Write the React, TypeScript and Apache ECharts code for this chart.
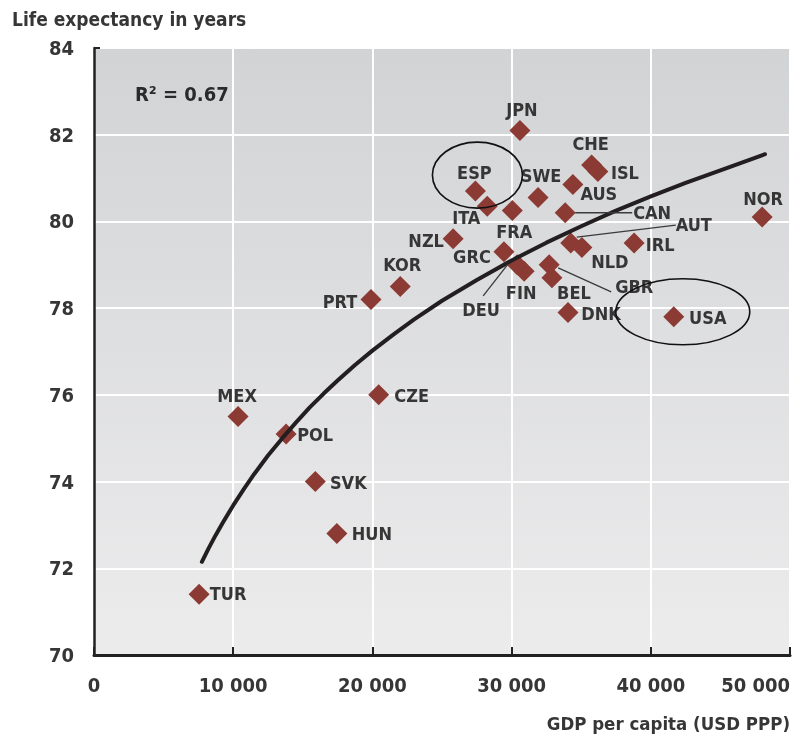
import React, { useEffect, useRef } from "react";
import * as echarts from "echarts";

const countries = ["TUR", "MEX", "POL", "SVK", "HUN", "CZE", "PRT", "KOR", "NZL", "GRC", "ITA", "ESP", "FRA", "SWE", "AUS", "CHE", "ISL", "JPN", "CAN", "AUT", "NLD", "IRL", "NOR", "USA", "DNK", "BEL", "GBR", "FIN", "DEU"];
const gdpPerCapita = [7550, 10350, 13800, 15900, 17450, 20450, 19900, 22000, 25800, 29450, 28250, 27400, 30050, 31900, 34400, 35750, 36200, 30600, 33850, 34250, 35050, 38800, 48000, 41650, 34050, 32900, 32700, 30900, 30400];
const lifeExpectancy = [71.4, 75.5, 75.1, 74.0, 72.8, 76.0, 78.2, 78.5, 79.6, 79.3, 80.35, 80.7, 80.25, 80.55, 80.85, 81.3, 81.15, 82.1, 80.2, 79.5, 79.4, 79.5, 80.1, 77.8, 77.9, 78.7, 79.0, 78.85, 79.0];

// Fitted curve
const trendGdp = [7750, 8250, 8750, 9250, 10000, 10750, 11500, 12500, 13500, 14500, 15500, 16500, 17500, 18750, 20000, 21500, 23000, 25000, 27500, 30000, 32500, 35000, 37500, 40000, 42500, 45000, 48200];
const trendLife = [72.15, 72.47, 72.77, 73.05, 73.45, 73.82, 74.17, 74.6, 74.99, 75.36, 75.71, 76.03, 76.33, 76.69, 77.02, 77.39, 77.74, 78.17, 78.65, 79.1, 79.51, 79.89, 80.25, 80.58, 80.89, 81.18, 81.55];

const xTicks = [0, 10000, 20000, 30000, 40000, 50000];
const yTicks = [70, 72, 74, 76, 78, 80, 82, 84];

const titleText = "Life expectancy in years";
const xAxisName = "GDP per capita (USD PPP)";
const r2Text = "R² = 0.67";
const highlighted = ["ESP", "USA"];

// layout: label centre offsets (px) from each diamond
const labelOffsets: Record<string, number[]> = {
  TUR: [29, -1], MEX: [-1, -21], POL: [29, 1], SVK: [33, 1], HUN: [35, 0], CZE: [33, 1],
  PRT: [-31, 2], KOR: [2, -22], NZL: [-27, 2], GRC: [-32, 5], ITA: [-21, 11], ESP: [-1, -19],
  FRA: [2, 21], SWE: [3, -22], AUS: [26, 9], CHE: [-1, -22], ISL: [27, 1], JPN: [2, -21],
  CAN: [87, 0], AUT: [123, -19], NLD: [28, 14], IRL: [26, 1], NOR: [1, -19], USA: [34, 1],
  DNK: [33, 1], BEL: [22, 15], GBR: [85, 22], FIN: [-3, 21], DEU: [-36, 45],
};
// layout: leader lines [x1, y1, x2, y2] relative to the diamond
const leaderLines: Record<string, number[]> = {
  CAN: [10, 0, 67, 0],
  AUT: [6, -6, 105, -18],
  GBR: [9, 3, 62, 27],
  DEU: [-9, -1, -34, 31],
};
// layout: ellipse centre offset and radii
const ellipses: Record<string, number[]> = {
  ESP: [2, -16, 45, 33],
  USA: [9, -5, 67, 33],
};

const FONT = "'DejaVu Sans Condensed', 'DejaVu Sans', sans-serif";
const TEXT = "#363636";

export default function App() {
  const ref = useRef<HTMLDivElement>(null);
  useEffect(() => {
    const chart = echarts.init(ref.current!, null, { renderer: "svg" });
    const option: any = {
      animation: false,
      grid: {
        left: 94,
        right: 6,
        top: 48,
        bottom: 87,
        show: true,
        borderWidth: 0,
        backgroundColor: new echarts.graphic.LinearGradient(0, 0, 0, 1, [
          { offset: 0, color: "#d2d3d5" },
          { offset: 1, color: "#ececed" },
        ]),
      },
      xAxis: {
        type: "value",
        min: xTicks[0],
        max: xTicks[xTicks.length - 1],
        interval: 10000,
        axisLine: { show: true, lineStyle: { color: "#222", width: 3 } },
        axisTick: { show: true, inside: true, length: 8, lineStyle: { color: "#222", width: 2 } },
        splitLine: { show: true, lineStyle: { color: "#ffffff", width: 2 } },
        axisLabel: {
          color: TEXT,
          fontFamily: FONT,
          fontWeight: "bold",
          fontSize: 20,
          margin: 20,
          alignMaxLabel: "right",
          formatter: (v: number) => (v === 0 ? "0" : `${v / 1000} 000`),
        },
      },
      yAxis: {
        type: "value",
        min: yTicks[0],
        max: yTicks[yTicks.length - 1],
        interval: 2,
        axisLine: { show: true, lineStyle: { color: "#222", width: 2.5 } },
        axisTick: { show: false },
        splitLine: { show: true, lineStyle: { color: "#ffffff", width: 2 } },
        axisLabel: { color: TEXT, fontFamily: FONT, fontWeight: "bold", fontSize: 20, margin: 20 },
      },
      series: [
        {
          type: "scatter",
          symbol: "diamond",
          symbolSize: 21,
          itemStyle: { color: "#8b3a34", opacity: 1 },
          z: 2,
          label: {
            show: true,
            position: "inside",
            formatter: "{b}",
            color: TEXT,
            fontFamily: FONT,
            fontWeight: "bold",
            fontSize: 18,
            align: "center",
            verticalAlign: "middle",
          },
          data: countries.map((c, i) => ({
            name: c,
            value: [gdpPerCapita[i], lifeExpectancy[i]],
            label: { offset: labelOffsets[c] },
          })),
        },
        {
          type: "line",
          smooth: false,
          showSymbol: false,
          z: 5,
          lineStyle: { color: "#231f20", width: 4, join: "round", cap: "round" },
          data: trendGdp.map((x, i) => [x, trendLife[i]]),
        },
      ],
    };
    chart.setOption(option);

    const graphics: any[] = [
      {
        type: "text",
        left: 12,
        top: 9,
        style: { text: titleText, font: `bold 19px ${FONT}`, fill: TEXT },
      },
      {
        type: "text",
        right: 6,
        top: 714,
        style: { text: xAxisName, font: `bold 18.5px ${FONT}`, fill: TEXT },
      },
      {
        type: "text",
        left: 135,
        top: 84,
        style: { text: r2Text, font: `bold 20px ${FONT}`, fill: "#2a2a2a" },
      },
    ];
    const topLeft = chart.convertToPixel({ gridIndex: 0 }, [xTicks[0], yTicks[yTicks.length - 1]]) as number[];
    graphics.push({
      type: "line",
      shape: { x1: topLeft[0], y1: topLeft[1], x2: topLeft[0] + 6, y2: topLeft[1] },
      style: { stroke: "#222", lineWidth: 2 },
    });
    countries.forEach((c, i) => {
      const p = chart.convertToPixel({ gridIndex: 0 }, [gdpPerCapita[i], lifeExpectancy[i]]) as number[];
      const l = leaderLines[c];
      if (l) {
        graphics.push({
          type: "line",
          z: 10,
          shape: { x1: p[0] + l[0], y1: p[1] + l[1], x2: p[0] + l[2], y2: p[1] + l[3] },
          style: { stroke: "#3a3a3a", lineWidth: 1.3 },
        });
      }
      if (highlighted.includes(c)) {
        const e = ellipses[c];
        graphics.push({
          type: "ellipse",
          z: 10,
          shape: { cx: p[0] + e[0], cy: p[1] + e[1], rx: e[2], ry: e[3] },
          style: { fill: "none", stroke: "#111", lineWidth: 1.6 },
        });
      }
    });
    chart.setOption({ graphic: graphics });
    return () => chart.dispose();
  }, []);
  return <div ref={ref} style={{ position: "fixed", left: 0, top: 0, width: 796, height: 742 }} />;
}
